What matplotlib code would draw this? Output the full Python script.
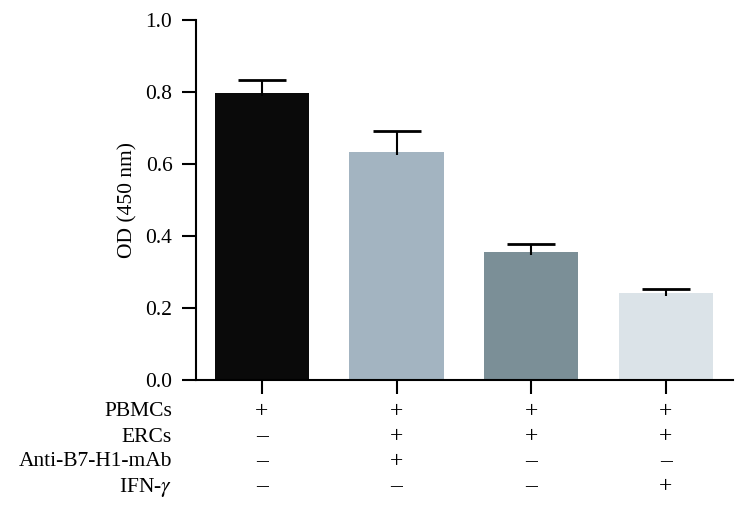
import matplotlib
matplotlib.use("Agg")
import matplotlib.pyplot as plt
import matplotlib.transforms as mtransforms

values = [0.797, 0.633, 0.356, 0.241]
errors = [0.036, 0.059, 0.021, 0.012]
colors = ["#0a0a0a", "#a3b4c1", "#7b8f97", "#dbe3e8"]
row_labels = ["PBMCs", "ERCs", "Anti-B7-H1-mAb", "IFN-$\\gamma$"]
row_signs = [
    ["+", "+", "+", "+"],
    ["–", "+", "+", "+"],
    ["–", "+", "–", "–"],
    ["–", "–", "–", "+"],
]
y_ticks = [0.0, 0.2, 0.4, 0.6, 0.8, 1.0]
y_label = "OD (450 nm)"

plt.rcParams["font.family"] = ["Liberation Serif", "DejaVu Serif"]
plt.rcParams["mathtext.fontset"] = "stix"

fig = plt.figure(figsize=(7.47, 5.11), dpi=100)
ax = fig.add_axes([196 / 747, 1 - 380 / 511, (733 - 196) / 747, 360 / 511])

x = list(range(len(values)))
ax.bar(x, values, width=0.70, color=colors, zorder=2)
eb = ax.errorbar(x, values, yerr=[[0.008] * len(errors), errors], fmt="none",
                 ecolor="black", elinewidth=1.5, capsize=17, capthick=2, zorder=3)
# keep only the upper caps
caps = eb[1]
if len(caps) == 2:
    caps[0].set_visible(False)

ax.set_xlim(-0.49, 3.50)
ax.set_ylim(0, 1.0)
ax.set_yticks(y_ticks)
ax.set_yticklabels([f"{v:.1f}" for v in y_ticks], fontsize=15.5)
ax.set_xticks(x)
ax.set_xticklabels([])
ax.tick_params(axis="both", direction="out", length=10, width=1.5, color="black")
ax.tick_params(axis="y", pad=7)
ax.spines["top"].set_visible(False)
ax.spines["right"].set_visible(False)
for s in ("left", "bottom"):
    ax.spines[s].set_linewidth(1.5)
ax.set_ylabel(y_label, fontsize=15.5, labelpad=6)

trans = mtransforms.blended_transform_factory(ax.transData, fig.transFigure)
label_x = 172 / 747
row_y = [412, 437, 462, 487]
for r, (lab, signs) in enumerate(zip(row_labels, row_signs)):
    yf = 1 - row_y[r] / 511
    fig.text(label_x, yf, lab, ha="right", va="center", fontsize=15.5)
    for i, s in enumerate(signs):
        ax.text(i, yf, s, transform=trans, ha="center", va="center", fontsize=17)

fig.savefig("out.png", dpi=100)
